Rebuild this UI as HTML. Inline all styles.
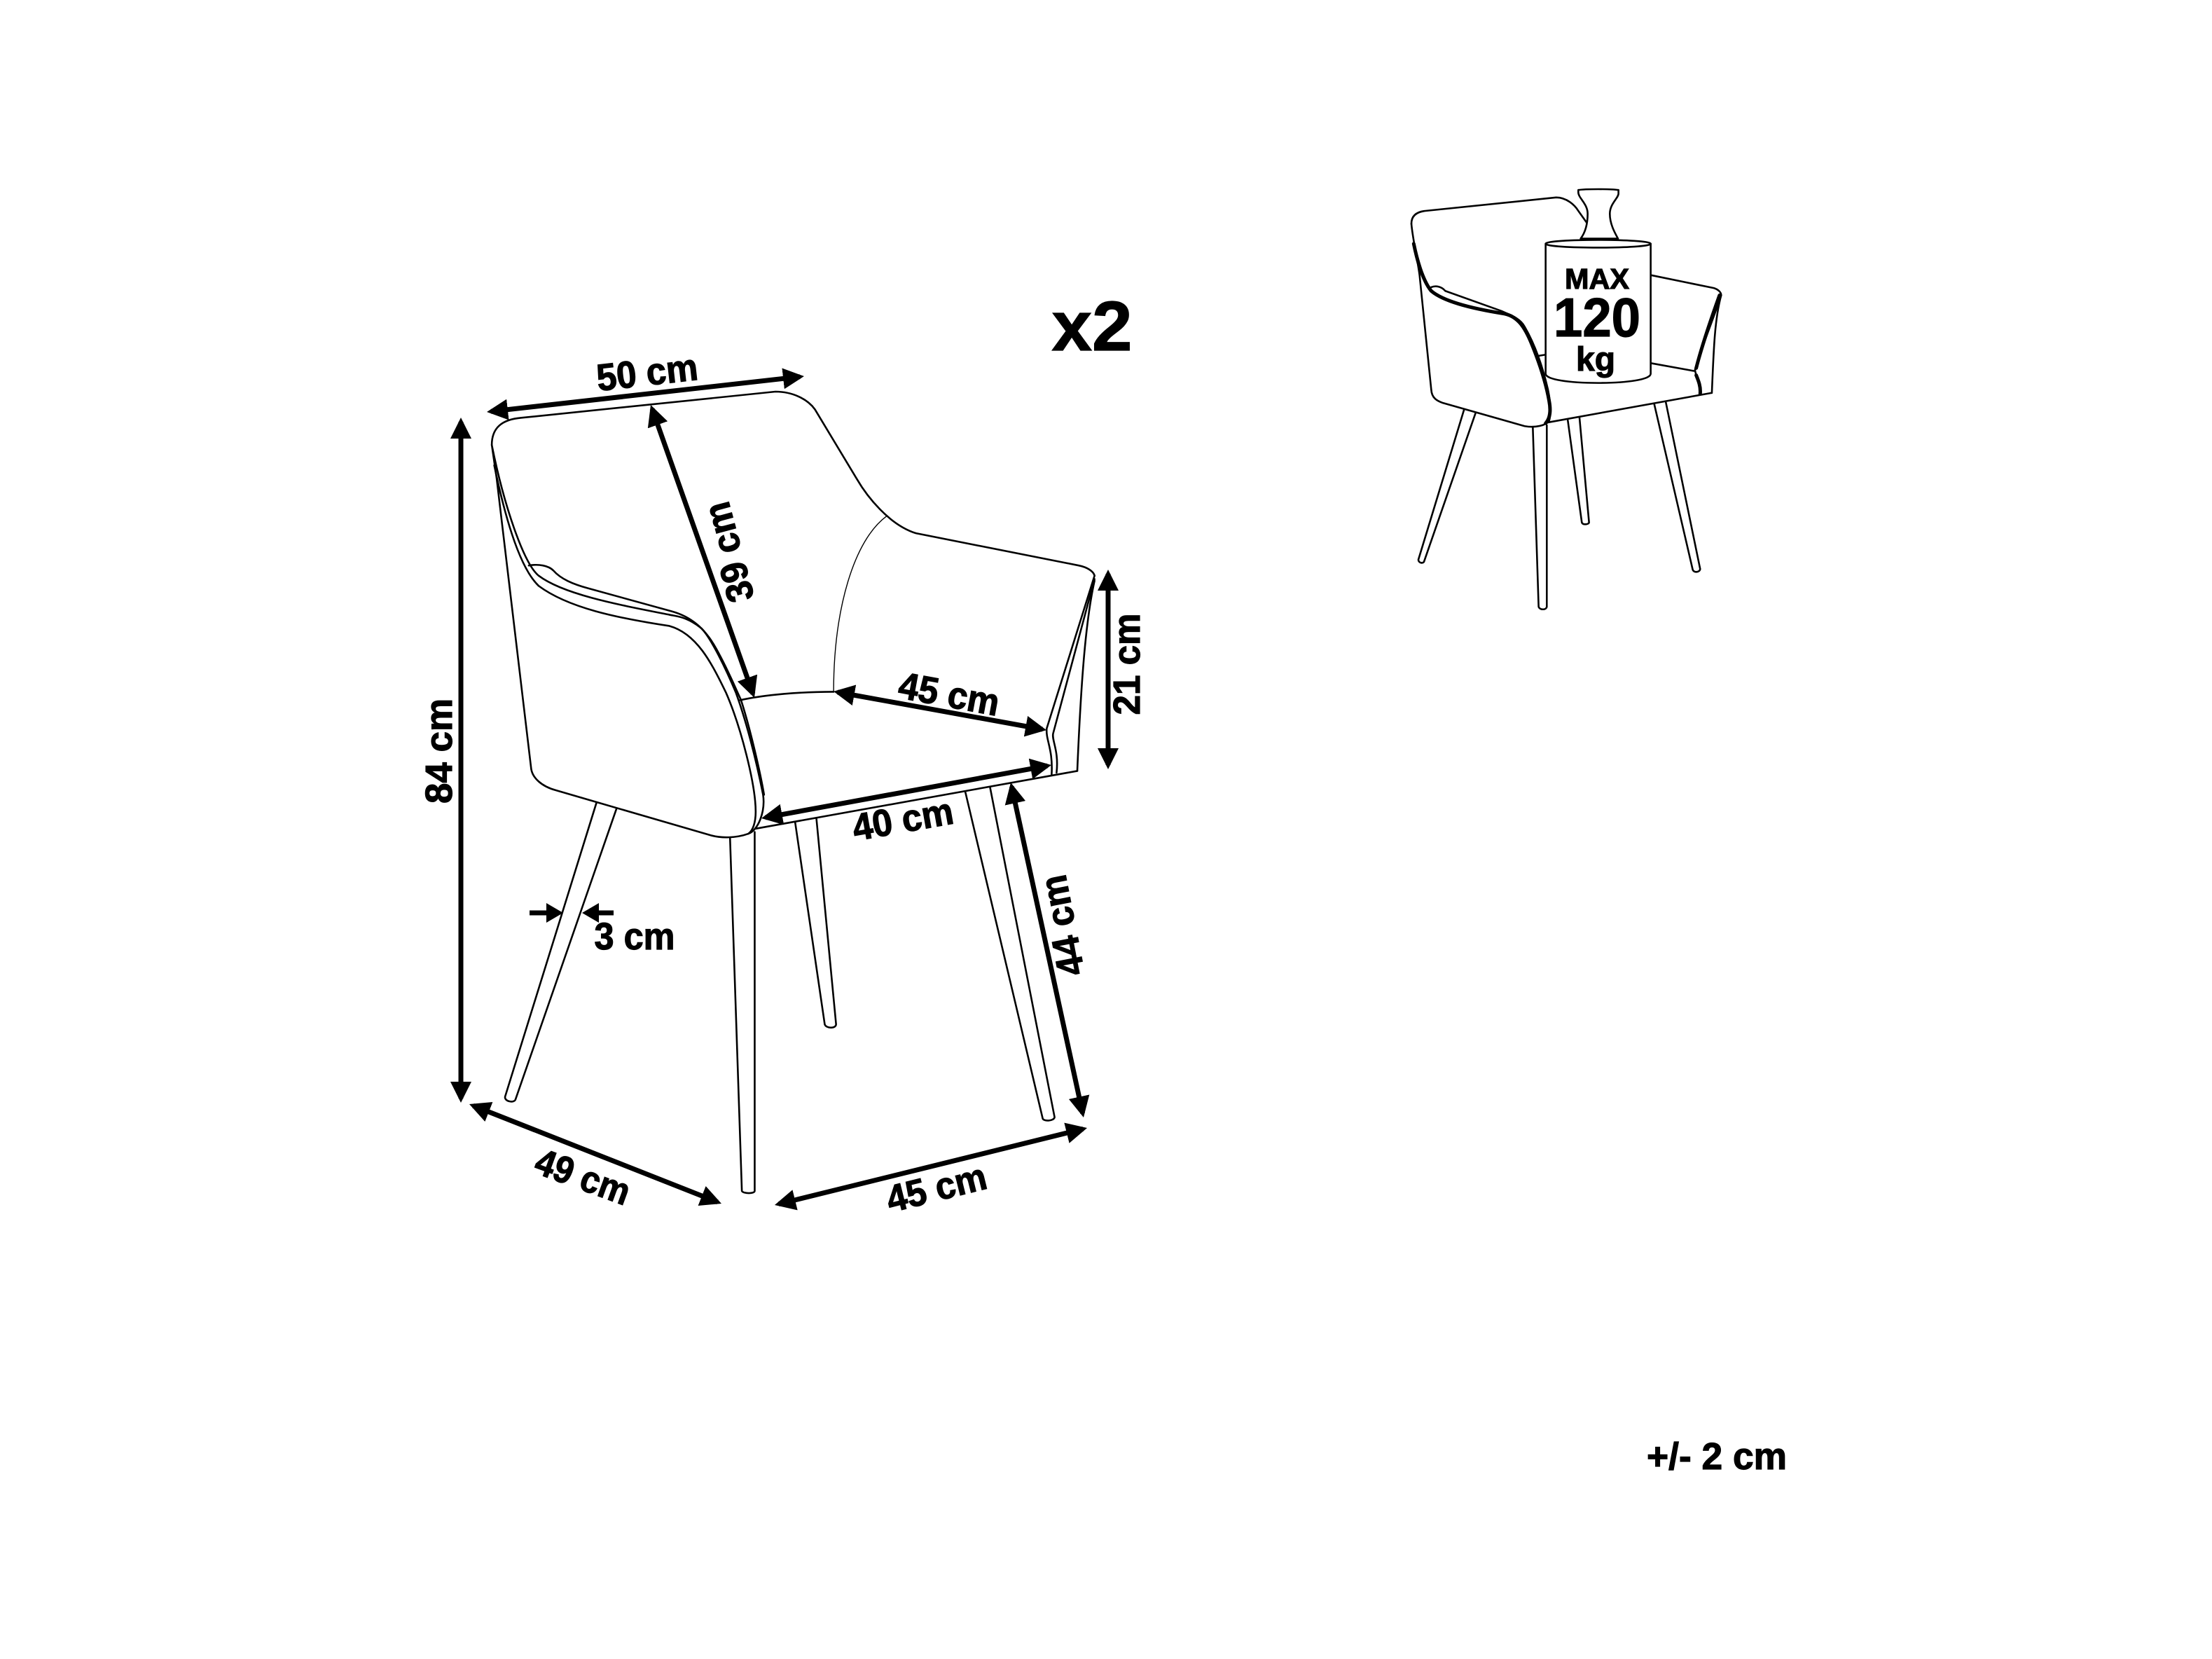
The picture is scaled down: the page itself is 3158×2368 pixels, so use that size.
<!DOCTYPE html>
<html><head><meta charset="utf-8"><style>
html,body{margin:0;padding:0;background:#fff;width:3158px;height:2368px;overflow:hidden}
svg{display:block}
text{font-family:"Liberation Sans",sans-serif;font-weight:bold;fill:#000;stroke:#000;stroke-width:1.2;text-anchor:middle}
.s path{fill:none;stroke:#000;stroke-width:2.6;vector-effect:non-scaling-stroke;stroke-linejoin:round;stroke-linecap:round}
.s path.t{stroke-width:1.4}
.s path.h{stroke-width:5}
.s path.w{fill:#fff}
.a line{stroke:#000;stroke-width:7;marker-start:url(#m);marker-end:url(#m)}
</style></head><body>
<svg width="3158" height="2368" viewBox="0 0 3158 2368" xmlns="http://www.w3.org/2000/svg">
<defs><marker id="m" markerUnits="userSpaceOnUse" markerWidth="34" markerHeight="34" refX="24" refY="15" orient="auto-start-reverse"><path d="M0 0L30 15L0 30Z" fill="#000"/></marker></defs>
<rect width="3158" height="2368" fill="#fff"/>

<g class="s" transform="translate(600,480) scale(.7042,.4847)">
<path d="M145 320C145 270 165 245 205 240L720 163C755 163 785 185 800 215L885 420C905 470 950 555 1005 580L1335 675C1352 680 1365 692 1367 705"/>
<path d="M145 320L155 420L225 1275C228 1300 245 1325 275 1337L590 1470C610 1478 640 1478 665 1465C685 1455 700 1400 695 1350C680 1240 660 1130 640 1050C620 980 590 890 570 860C540 825 520 825 505 820C400 790 290 760 240 705C210 670 170 500 145 320"/>
<path d="M150 380C170 520 200 680 240 735C300 800 400 830 505 853C560 875 590 960 620 1050C650 1150 680 1320 680 1400C680 1430 675 1455 665 1465"/>
<path d="M220 675C240 670 260 675 270 690C285 715 310 730 340 742L510 810C560 830 585 880 600 920C625 985 640 1040 650 1070C670 1160 690 1290 697 1350"/>
<path d="M647 1072C700 1055 770 1047 838 1047"/>
<path class="t" d="M945 530C880 600 838 800 838 1047"/>
<path d="M680 1450L1332 1280"/>
<path d="M1367 705L1270 1155C1268 1190 1283 1215 1280 1290"/>
<path d="M1367 715L1283 1170C1280 1190 1295 1220 1290 1285"/>
<path d="M1367 720C1350 830 1340 1000 1332 1280"/>
</g>

<g class="s" transform="translate(600,1100) scale(.7042,.421)">
<path d="M357 110L172 1105C170 1122 190 1128 193 1115L398 128"/>
<path d="M628 228L652 1425C655 1435 678 1435 678 1425L678 208"/>
<path d="M760 175L820 860C823 875 843 875 843 860L803 160"/>
<path d="M1105 72L1262 1180C1265 1190 1285 1188 1286 1175L1155 55"/>
</g>

<g class="a">
<line x1="701" y1="587.3" x2="1142" y2="537.7"/>
<line x1="931" y1="583.7" x2="1075" y2="990.3"/>
<line x1="1195.9" y1="988" x2="1488.1" y2="1041"/>
<line x1="1582" y1="819" x2="1582" y2="1092"/>
<line x1="1092.9" y1="1166.9" x2="1495.1" y2="1093.1"/>
<line x1="658" y1="602" x2="658" y2="1568"/>
<line x1="1444.3" y1="1122.9" x2="1545.7" y2="1589.1"/>
<line x1="675.6" y1="1578.2" x2="1024.4" y2="1715.8"/>
<line x1="1111.8" y1="1718.6" x2="1546.2" y2="1611.4"/>
</g>
<path d="M756 1303H785M876 1303H850" stroke="#000" stroke-width="7" fill="none"/>
<path d="M780 1289L804 1303L780 1317ZM855 1289L831 1303L855 1317Z" fill="#000"/>

<g font-size="54">
<text transform="translate(924,532) rotate(-6.5)" y="18" textLength="145" lengthAdjust="spacingAndGlyphs">50 cm</text>
<text transform="translate(1041,788) rotate(-105)" y="18" textLength="145" lengthAdjust="spacingAndGlyphs">39 cm</text>
<text transform="translate(1355,991) rotate(10.5)" y="18" textLength="145" lengthAdjust="spacingAndGlyphs">45 cm</text>
<text transform="translate(1609,948) rotate(-90)" y="18" textLength="145" lengthAdjust="spacingAndGlyphs">21 cm</text>
<text transform="translate(1289,1170) rotate(-10)" y="18" textLength="145" lengthAdjust="spacingAndGlyphs">40 cm</text>
<text transform="translate(627,1072) rotate(-90)" y="18" textLength="150" lengthAdjust="spacingAndGlyphs">84 cm</text>
<text transform="translate(906,1337)" y="18" textLength="115" lengthAdjust="spacingAndGlyphs">3 cm</text>
<text transform="translate(1517,1321) rotate(-101)" y="18" textLength="145" lengthAdjust="spacingAndGlyphs">44 cm</text>
<text transform="translate(832,1680) rotate(20)" y="18" textLength="140" lengthAdjust="spacingAndGlyphs">49 cm</text>
<text transform="translate(1337,1696) rotate(-14)" y="18" textLength="145" lengthAdjust="spacingAndGlyphs">45 cm</text>
<text x="2451" y="2097" textLength="200" lengthAdjust="spacingAndGlyphs">+/- 2 cm</text>
</g>
<text x="1559" y="500" font-size="100" stroke-width="2" textLength="115" lengthAdjust="spacingAndGlyphs">x2</text>

<g class="s" transform="translate(1980,250) scale(.3333,.408)">
<path d="M105 170C105 140 130 128 165 125L725 78C770 78 805 105 820 125L855 165"/>
<path d="M105 170C110 220 130 290 140 350L190 750C192 780 215 790 240 797L590 878C640 885 680 875 695 860C705 830 700 790 690 750C670 680 640 600 590 530C570 500 530 490 490 475L250 405C235 390 210 385 190 392"/>
<path class="h" d="M115 240C130 300 155 370 190 405C240 440 350 465 505 485C560 495 590 530 620 590C650 650 680 720 695 790C702 820 700 850 680 868"/>
<path d="M690 865L1390 762"/>
<path d="M1132 350L1400 395C1420 400 1432 410 1432 420C1400 500 1340 620 1320 680C1320 700 1345 730 1345 765"/>
<path class="h" d="M1425 420C1390 500 1345 610 1325 675M1325 700C1335 720 1345 740 1342 765"/>
<path d="M1432 420C1405 500 1400 600 1392 762"/>
<path d="M1132 658L1315 685M650 632L680 628"/>
<path d="M330 822L135 1345C135 1358 158 1360 160 1350L380 832"/>
<path d="M625 880L650 1510C655 1522 682 1522 685 1510L685 875"/>
<path d="M775 858L835 1215C840 1225 865 1222 866 1215L825 848"/>
<path d="M1145 800L1310 1380C1315 1392 1340 1390 1342 1378L1195 795"/>
<path class="w" d="M830 222C850 200 860 170 860 135C860 100 820 80 820 60L820 52C850 48 960 48 992 52L992 65C992 80 955 100 955 135C955 170 975 200 990 222Z"/>
<path class="w" d="M680 240L680 695C680 715 780 727 905 727C1030 727 1130 715 1130 695L1130 240C1130 222 680 222 680 240Z"/>
<path d="M680 240C680 258 1130 258 1130 240"/>
</g>
<text x="2280" y="412" font-size="41" textLength="92" lengthAdjust="spacingAndGlyphs">MAX</text>
<text x="2280" y="480" font-size="78" textLength="124" lengthAdjust="spacingAndGlyphs">120</text>
<text x="2278" y="529" font-size="48" textLength="56" lengthAdjust="spacingAndGlyphs">kg</text>
</svg>
</body></html>
